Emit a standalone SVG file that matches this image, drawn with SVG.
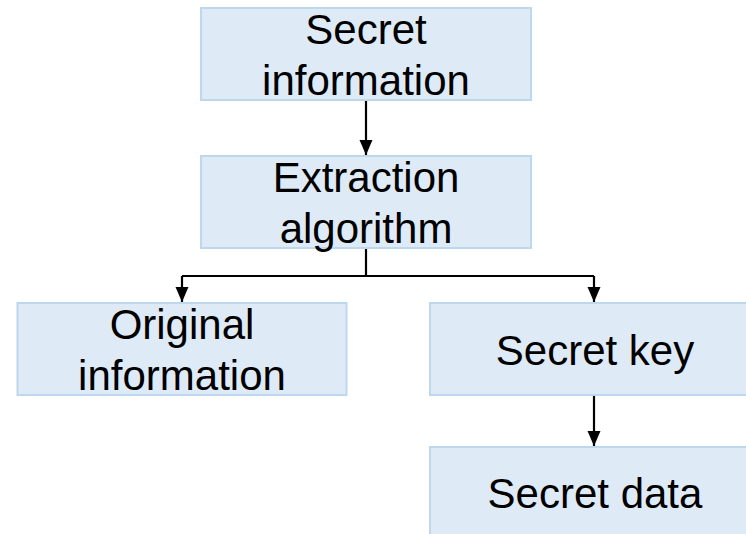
<svg xmlns="http://www.w3.org/2000/svg" width="746" height="534" viewBox="0 0 746 534">
  <style>
    .box { fill: #deebf7; stroke: #bdd7ee; stroke-width: 2; }
    .lbl { font-family: "Liberation Sans", Arial, sans-serif; font-size: 42px; fill: #000; text-anchor: middle; }
    .con { fill: none; stroke: #000; stroke-width: 2.2; }
  </style>
  <defs>
    <marker id="arrow" markerUnits="userSpaceOnUse" markerWidth="16" markerHeight="16" refX="15" refY="8" orient="auto">
      <path d="M0,1.5 L15,8 L0,14.5 z" fill="#000"/>
    </marker>
  </defs>
  <rect width="746" height="534" fill="#fff"/>

  <g id="connectors">
    <path class="con" d="M366,100 V155" marker-end="url(#arrow)"/>
    <path class="con" d="M366,248 V276"/>
    <path class="con" d="M182,276 H594"/>
    <path class="con" d="M182,276 V302" marker-end="url(#arrow)"/>
    <path class="con" d="M594,276 V302" marker-end="url(#arrow)"/>
    <path class="con" d="M594,395 V446" marker-end="url(#arrow)"/>
  </g>

  <g id="secret-information">
    <rect class="box" x="201" y="8" width="330" height="92"/>
    <text class="lbl" x="366" y="43.5">Secret</text>
    <text class="lbl" x="366" y="94.5">information</text>
  </g>

  <g id="extraction-algorithm">
    <rect class="box" x="201" y="156" width="330" height="92"/>
    <text class="lbl" x="366" y="191.5">Extraction</text>
    <text class="lbl" x="366" y="242.5">algorithm</text>
  </g>

  <g id="original-information">
    <rect class="box" x="17.5" y="303" width="329" height="92"/>
    <text class="lbl" x="182" y="338.5">Original</text>
    <text class="lbl" x="182" y="389.5">information</text>
  </g>

  <g id="secret-key">
    <rect class="box" x="430" y="303" width="330" height="92"/>
    <text class="lbl" x="595" y="364.5">Secret key</text>
  </g>

  <g id="secret-data">
    <rect class="box" x="430" y="447" width="330" height="92"/>
    <text class="lbl" x="595" y="508">Secret data</text>
  </g>
</svg>
